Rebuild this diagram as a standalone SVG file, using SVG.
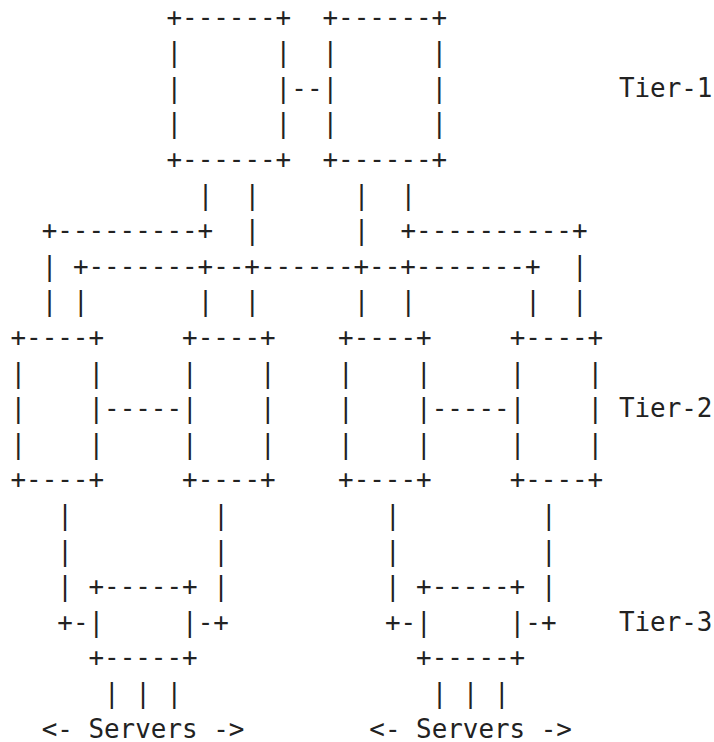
<svg xmlns="http://www.w3.org/2000/svg" width="714" height="742" viewBox="0 0 714 742" xml:space="preserve">
<style>
text { font-family: "DejaVu Sans Mono", "Liberation Mono", monospace; font-size: 25.9px; fill: #222; white-space: pre; }
</style>
<rect x="0" y="0" width="714" height="742" fill="#ffffff"/>
<g id="connectors">
<text x="291.3" y="96.7">--</text>
<text x="197.7" y="203.5">|</text><text x="244.5" y="203.5">|</text><text x="353.7" y="203.5">|</text><text x="400.5" y="203.5">|</text>
<text x="41.7" y="239.1">+---------+</text><text x="244.5" y="239.1">|</text><text x="353.7" y="239.1">|</text><text x="400.5" y="239.1">+----------+</text>
<text x="41.7" y="274.7">|</text><text x="72.9" y="274.7">+-------+--+------+--+-------+</text><text x="572.1" y="274.7">|</text>
<text x="41.7" y="310.3">|</text><text x="72.9" y="310.3">|</text><text x="197.7" y="310.3">|</text><text x="244.5" y="310.3">|</text><text x="353.7" y="310.3">|</text><text x="400.5" y="310.3">|</text><text x="525.3" y="310.3">|</text><text x="572.1" y="310.3">|</text>
<text x="104.1" y="417.1">-----</text><text x="431.7" y="417.1">-----</text>
<text x="57.3" y="523.9">|</text><text x="213.3" y="523.9">|</text><text x="384.9" y="523.9">|</text><text x="540.9" y="523.9">|</text>
<text x="57.3" y="559.5">|</text><text x="213.3" y="559.5">|</text><text x="384.9" y="559.5">|</text><text x="540.9" y="559.5">|</text>
<text x="57.3" y="595.1">|</text><text x="213.3" y="595.1">|</text><text x="384.9" y="595.1">|</text><text x="540.9" y="595.1">|</text>
<text x="57.3" y="630.7">+-</text><text x="197.7" y="630.7">-+</text><text x="384.9" y="630.7">+-</text><text x="525.3" y="630.7">-+</text>
<text x="104.1" y="701.9">| | |</text><text x="431.7" y="701.9">| | |</text>
</g>
<g id="tier1-a">
<text x="166.5" y="25.5">+------+</text>
<text x="166.5" y="61.1">|      |</text>
<text x="166.5" y="96.7">|      |</text>
<text x="166.5" y="132.3">|      |</text>
<text x="166.5" y="167.9">+------+</text>
</g>
<g id="tier1-b">
<text x="322.5" y="25.5">+------+</text>
<text x="322.5" y="61.1">|      |</text>
<text x="322.5" y="96.7">|      |</text>
<text x="322.5" y="132.3">|      |</text>
<text x="322.5" y="167.9">+------+</text>
</g>
<g id="tier2-a">
<text x="10.5" y="345.9">+----+</text>
<text x="10.5" y="381.5">|    |</text>
<text x="10.5" y="417.1">|    |</text>
<text x="10.5" y="452.7">|    |</text>
<text x="10.5" y="488.3">+----+</text>
</g>
<g id="tier2-b">
<text x="182.1" y="345.9">+----+</text>
<text x="182.1" y="381.5">|    |</text>
<text x="182.1" y="417.1">|    |</text>
<text x="182.1" y="452.7">|    |</text>
<text x="182.1" y="488.3">+----+</text>
</g>
<g id="tier2-c">
<text x="338.1" y="345.9">+----+</text>
<text x="338.1" y="381.5">|    |</text>
<text x="338.1" y="417.1">|    |</text>
<text x="338.1" y="452.7">|    |</text>
<text x="338.1" y="488.3">+----+</text>
</g>
<g id="tier2-d">
<text x="509.7" y="345.9">+----+</text>
<text x="509.7" y="381.5">|    |</text>
<text x="509.7" y="417.1">|    |</text>
<text x="509.7" y="452.7">|    |</text>
<text x="509.7" y="488.3">+----+</text>
</g>
<g id="tier3-a">
<text x="88.5" y="595.1">+-----+</text>
<text x="88.5" y="630.7">|     |</text>
<text x="88.5" y="666.3">+-----+</text>
</g>
<g id="tier3-b">
<text x="416.1" y="595.1">+-----+</text>
<text x="416.1" y="630.7">|     |</text>
<text x="416.1" y="666.3">+-----+</text>
</g>
<g id="labels">
<text x="618.9" y="96.7">Tier-1</text>
<text x="618.9" y="417.1">Tier-2</text>
<text x="618.9" y="630.7">Tier-3</text>
<text x="41.7" y="737.5">&lt;- Servers -&gt;</text>
<text x="369.3" y="737.5">&lt;- Servers -&gt;</text>
</g>
</svg>
